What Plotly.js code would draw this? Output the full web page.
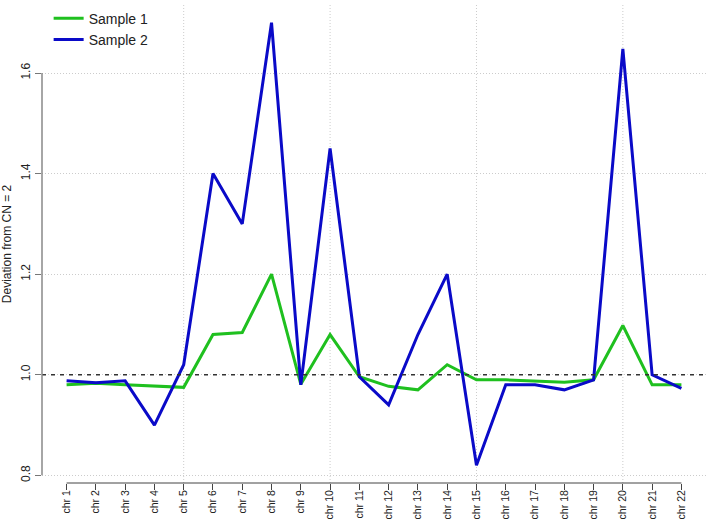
<!DOCTYPE html>
<html>
<head>
<meta charset="utf-8">
<script src="https://cdn.plot.ly/plotly-3.0.1.min.js"></script>
<style>
  html, body { margin: 0; padding: 0; background: #fff; }
  #plot { width: 709px; height: 522px; }
</style>
</head>
<body>
<div id="plot"></div>
<script>
// Chromosome labels
const chromosomes = ["chr 1", "chr 2", "chr 3", "chr 4", "chr 5", "chr 6", "chr 7", "chr 8",
  "chr 9", "chr 10", "chr 11", "chr 12", "chr 13", "chr 14", "chr 15", "chr 16",
  "chr 17", "chr 18", "chr 19", "chr 20", "chr 21", "chr 22"];

// Deviation values
const sample1 = [0.98, 0.983, 0.98, 0.978, 0.975, 1.08, 1.084, 1.20, 0.981, 1.08, 0.996,
  0.977, 0.97, 1.02, 0.99, 0.99, 0.988, 0.985, 0.99, 1.098, 0.98, 0.98];
const sample2 = [0.988, 0.984, 0.988, 0.90, 1.02, 1.40, 1.30, 1.70, 0.98, 1.45, 0.996,
  0.94, 1.08, 1.20, 0.82, 0.98, 0.98, 0.97, 0.99, 1.648, 1.00, 0.973];

const yTicks = [0.8, 1.0, 1.2, 1.4, 1.6];
const gridX = [5, 10, 15, 20];

const xPos = chromosomes.map((c, i) => i + 1);
const font = "Arial, 'Liberation Sans', sans-serif";

const trace1 = { x: xPos, y: sample1, mode: "lines", type: "scatter", name: "Sample 1",
  line: { color: "#1fc01f", width: 3 } };
const trace2 = { x: xPos, y: sample2, mode: "lines", type: "scatter", name: "Sample 2",
  line: { color: "#0a0ac8", width: 3 } };

// grid lines, reference line and R-style axis lines
const shapes = [];
gridX.forEach(g => shapes.push({ type: "line", layer: "below", xref: "x", yref: "paper",
  x0: g, x1: g, y0: 0, y1: 1, line: { color: "#cccccc", width: 1, dash: "1px,2px" } }));
shapes.push({ type: "line", xref: "paper", yref: "y", x0: 0, x1: 1, y0: 1, y1: 1,
  line: { color: "#333", width: 1.5, dash: "4px,5px" } });
shapes.push({ type: "line", xref: "x", yref: "paper", x0: 1, x1: 22, y0: 0, y1: 0,
  line: { color: "#444", width: 1 } });
shapes.push({ type: "line", xref: "paper", yref: "y", x0: 0, x1: 0, y0: 0.8, y1: 1.6,
  line: { color: "#888", width: 1.5 } });

const layout = {
  width: 709, height: 522,
  margin: { l: 42, r: 3, t: 3, b: 39 },
  paper_bgcolor: "#fff", plot_bgcolor: "#fff",
  font: { family: font, size: 12, color: "#222" },
  showlegend: true,
  legend: { x: 0.01, y: 1.005, xanchor: "left", yanchor: "top", bgcolor: "rgba(0,0,0,0)",
    font: { size: 14, color: "#222" } },
  xaxis: {
    range: [0.16, 22.84], tickmode: "array", tickvals: xPos, ticktext: chromosomes,
    tickangle: -90, ticks: "outside", ticklen: 6, tickcolor: "#444",
    tickfont: { size: 10.5 },
    showgrid: false, zeroline: false, showline: false, automargin: false,
    ticklabelstandoff: -4
  },
  yaxis: {
    range: [0.7848, 1.7352], tickmode: "array", tickvals: yTicks,
    ticktext: yTicks.map(v => v.toFixed(1)), tickangle: -90,
    ticks: "outside", ticklen: 6, tickcolor: "#777",
    showgrid: true, gridcolor: "#cccccc", griddash: "1px,2px", gridwidth: 1,
    zeroline: false, showline: false, automargin: false,
    title: { text: "Deviation from CN = 2", font: { size: 12 }, standoff: 10 }
  },
  shapes: shapes
};

Plotly.newPlot("plot", [trace1, trace2], layout, { staticPlot: true });
</script>
</body>
</html>
